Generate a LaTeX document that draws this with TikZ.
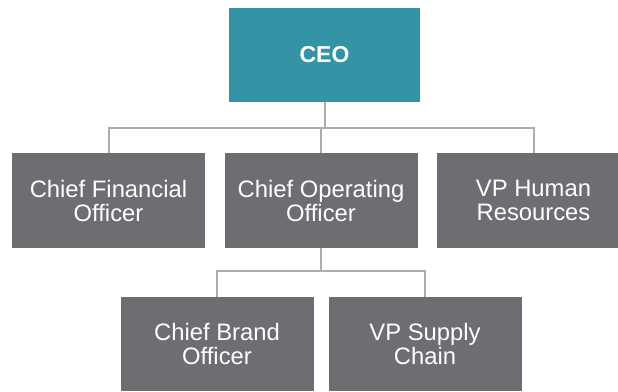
\documentclass[tikz,border=0pt]{standalone}
\usepackage{fontspec}
\setmainfont{Liberation Sans}
\definecolor{ceoteal}{HTML}{3493A5}
\definecolor{boxgray}{HTML}{6E6D71}
\definecolor{linkgray}{HTML}{ADADAD}
\tikzset{
  post/.style={fill=boxgray, text=white, align=center, inner sep=0pt,
    minimum width=193pt, minimum height=95pt,
    font=\fontsize{23.8}{24}\selectfont},
  chief/.style={post, fill=ceoteal, minimum width=191pt, minimum height=94pt,
    font=\fontsize{23}{24}\selectfont\bfseries},
  link/.style={draw=linkgray, line width=2pt}
}
\begin{document}
\begin{tikzpicture}

  \useasboundingbox (0pt,0pt) rectangle (618pt,-391pt);

  \node[chief] (ceo) at (324.5pt,-55pt) {CEO};

  \node[post] (cfo)  at (108.5pt,-200.5pt) {Chief Financial\\Officer};
  \node[post] (coo)  at (321pt,-200.5pt)   {Chief Operating\\Officer};
  \node[post] (vphr) at (533.5pt,-200.5pt) {VP Human\\Resources};

  \node[post, minimum height=94pt] (cbo) at (217pt,-344pt) {Chief Brand\\Officer};
  \node[post, minimum height=94pt] (vpsc) at (425pt,-344pt) {VP Supply\\Chain};

  \coordinate (topbus) at (ceo.south |- 0pt,-128pt);
  \coordinate (lowbus) at (coo.south |- 0pt,-271pt);

  \draw[link] (ceo.south) -- (topbus);
  \draw[link] (topbus) -| (cfo.north);
  \draw[link] (topbus) -| (coo.north);
  \draw[link] (topbus) -| (vphr.north);

  \draw[link] (coo.south) -- (lowbus);
  \draw[link] (lowbus) -| (cbo.north);
  \draw[link] (lowbus) -| (vpsc.north);

\end{tikzpicture}
\end{document}
